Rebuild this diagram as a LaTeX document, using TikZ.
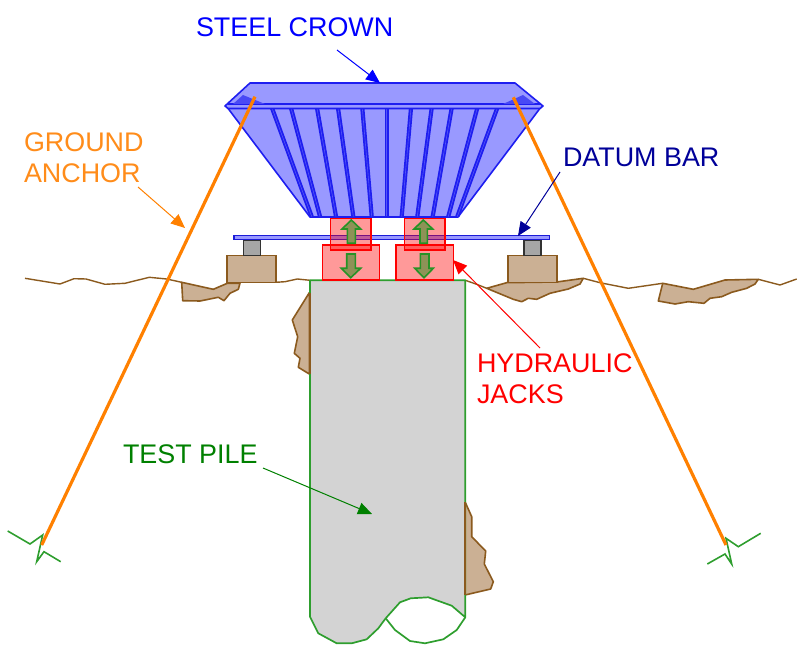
\documentclass[tikz,border=0pt]{standalone}
\usepackage{fontspec}
\setmainfont{Liberation Sans}
\usetikzlibrary{arrows.meta}
\definecolor{crownfill}{HTML}{9999FF}
\definecolor{crownline}{HTML}{1E1EF0}
\definecolor{soil}{HTML}{8B5A1E}
\definecolor{soilfill}{HTML}{CBB094}
\definecolor{pilefill}{HTML}{D3D3D3}
\definecolor{pileline}{HTML}{2E9E2E}
\definecolor{anchorc}{HTML}{FF8000}
\definecolor{navyc}{HTML}{000099}
\definecolor{greenc}{HTML}{008000}
\definecolor{labelorange}{HTML}{FF8C1A}
\definecolor{arrowfill}{HTML}{8E9257}
\tikzset{
  lbl/.style={font=\fontsize{26.9}{31}\selectfont,inner sep=0pt,outer sep=0pt,anchor=base west,align=left},
  callout/.style={line width=1pt,-{Triangle[length=14pt,width=12pt]}},
  soilshape/.style={draw=soil,fill=soilfill,line width=1.6pt,line join=round},
  groundline/.style={draw=soil,line width=1.4pt,line join=round},
  pileshape/.style={draw=pileline,line width=1.7pt,line join=round},
  crownshape/.style={draw=crownline,fill=crownfill,line width=1.6pt,line join=round},
  rib/.style={draw=crownline,line width=4.2pt},
  ribcore/.style={draw=crownfill!45!crownline,line width=.6pt},
  jack/.style={draw=red,fill=red,fill opacity=.4,line width=1.4pt},
  jackarrow/.style={draw=greenc!85!white,fill=arrowfill,line width=1.6pt,line join=miter},
  bearing/.style={draw=soil,fill=soilfill,line width=1.6pt},
  spacer/.style={draw=black!80,fill=black!35,line width=1.6pt},
  tendon/.style={draw=anchorc,line width=3.2pt},
  barb/.style={draw=pileline,line width=1.6pt,line join=miter}
}
\begin{document}
\begin{tikzpicture}[x=1pt,y=-1pt]
\useasboundingbox (0,0) rectangle (800,660);
% ground surface
\draw[groundline] (25,278.3)--(60,284)--(74,278.7)--(86,279)--(105,284.3)--(125,283.3)--(149.3,277.3)--(166.7,279)--(181.7,282.3);
\draw[groundline] (276,282.3)--(285,281.7)--(297.3,279)--(310,280.3);
\draw[groundline] (465.3,280.3)--(476.7,284.3)--(486.7,288.3);
\draw[groundline] (583.3,278.3)--(600,282.7)--(628.3,288.3)--(662.7,283.3);
\draw[groundline] (758.3,279.3)--(780,285)--(796.7,279);
% soil pockets
\draw[soilshape] (181.7,282.3)--(213.3,289.3)--(227.3,283.3)--(240,283.3)--(238.3,289.3)--(230,293.3)--(224,300.7)--(218.3,297.3)--(200,301)--(182.7,300.7)--cycle;
\draw[soilshape] (486.7,288.3)--(506.7,282.7)--(556.7,282)--(583.3,278.3)--(580,284)--(568.3,289)--(550,293.3)--(536.7,299.3)--(528.3,298.3)--(521.7,301.7)--(513.3,299.3)--cycle;
\draw[soilshape] (662.7,283.3)--(693.3,289.3)--(725,280)--(758.3,279.3)--(755,284)--(746.7,288.3)--(731.7,292.3)--(721.7,296.7)--(710,298.3)--(704,303.3)--(688.3,301.7)--(675,304)--(658.3,301)--cycle;
\draw[soilshape] (309.3,292.7)--(292.3,320)--(297.7,336.7)--(294.3,353.3)--(300,358.3)--(298.3,367.3)--(309.3,374)--cycle;
\draw[soilshape] (465,501.7)--(471.7,516.7)--(471.7,536.7)--(485.7,551)--(484.3,564)--(493.3,581.7)--(490.7,589)--(465,595)--cycle;
% test pile
\draw[pileshape,fill=pilefill] (310,280.3)--(465.3,280.3)--(465.3,617.3)--(451.7,605.7)--(428.3,597.3)--(410.7,598.3)--(400,602.3)--(385.7,618.3)--(378.3,628.3)--(366.7,639.3)--(351.7,643.3)--(336.7,643.3)--(318.3,633.3)--(310,616.7)--cycle;
\draw[pileshape] (385.7,618.3)--(395,630)--(410,641)--(425,643.3)--(443.3,639.3)--(456.7,630)--(465.3,617.3);
\draw[soil,line width=1.7pt] (465.3,501.7)--(465.3,595);
\draw[soil,line width=1.7pt] (309.9,292.7)--(309.9,374);
% bearing blocks
\draw[bearing] (227,255.7) rectangle (276,282.3);
\draw[bearing] (507.7,255.7) rectangle (556.7,282.3);
\draw[spacer] (243.3,240) rectangle (260.3,255.7);
\draw[spacer] (524,240) rectangle (541,255.7);
% crown
\draw[crownshape] (227,107)--(541,107)--(458,217)--(310,217)--cycle;
\foreach \a/\b in {272/311.7,291/320,317/336,338/353.3,362.3/371.7,386.7/386.7,411/401.7,431.7/417.3,451.7/432.7,477.3/448.3,497.3/457.3}{
  \draw[rib] (\a,108)--(\b,216.5);
  \draw[ribcore] (\a,108)--(\b,216.5);
}
\draw[crownshape] (225,106)--(250,83)--(515,83)--(543,106)--(540,108.5)--(228,108.5)--cycle;
\draw[crownline,line width=1.6pt] (228,104)--(540,104);
\fill[crownline!65!crownfill] (233,104)--(243,95)--(265,104)--cycle;
\fill[crownline!65!crownfill] (503,104)--(523,95)--(535,104)--cycle;
% datum bar
\draw[draw=crownline!90!black,fill=crownfill,line width=1.6pt] (234,235.7) rectangle (549.3,239.7);
% jacks
\draw[jack] (330.3,218.3) rectangle (371,250);
\draw[jack] (404.3,218.3) rectangle (445,250);
\draw[jack] (322.3,245) rectangle (379.7,280);
\draw[jack] (396,245) rectangle (453.3,280);
\draw[jackarrow] (351.3,220)--(360.7,229)--(355.3,229)--(355.3,243.3)--(347.3,243.3)--(347.3,229)--(342,229)--cycle;
\draw[jackarrow] (423.3,220)--(432.7,229)--(427.3,229)--(427.3,243.3)--(420,243.3)--(420,229)--(414,229)--cycle;
\draw[jackarrow] (346.7,254)--(355.3,254)--(355.3,268.3)--(360.7,268.3)--(350.7,277.7)--(341.3,268.3)--(346.7,268.3)--cycle;
\draw[jackarrow] (420.3,254)--(429,254)--(429,268.3)--(433.3,268.3)--(424,277.7)--(414.7,268.3)--(420.3,268.3)--cycle;
% anchors
\coordinate (lefttop) at (255,96.7);
\coordinate (leftroot) at (41.7,545);
\coordinate (righttop) at (513.3,97.3);
\coordinate (rightroot) at (726,545);
\draw[barb] (7.7,531)--(30,544)--(42.7,535)--(36.7,561.7)--(44,551.7)--(60.7,561.7);
\draw[barb] (707.3,564)--(725,554)--(731.7,564)--(726,538.3)--(738.3,546.7)--(760.7,533.3);
\draw[tendon] (lefttop)--(leftroot);
\draw[tendon] (righttop)--(rightroot);
% labels
\node[lbl,text=blue] (crownlabel) at (196,37) {STEEL CROWN};
\node[lbl,text=labelorange] (anchorlabel) at (24,183) {GROUND\\ANCHOR};
\node[lbl,text=navyc] (datumlabel) at (563,167) {DATUM BAR};
\node[lbl,text=red] (jacklabel) at (477,403) {HYDRAULIC\\JACKS};
\node[lbl,text=greenc] (pilelabel) at (123,463) {TEST PILE};
% callouts
\coordinate (crowntarget) at (380,83);
\coordinate (datumtarget) at (518,236);
\coordinate (anchortarget) at (185,228);
\coordinate (jacktarget) at (453,260);
\coordinate (piletarget) at (372,514);
\coordinate (crownstart) at (337,50);
\coordinate (datumstart) at (560,172);
\coordinate (anchorstart) at (138,187);
\coordinate (jackstart) at (540,348);
\coordinate (pilestart) at (263,468);
\draw[callout,blue] (crownstart)--(crowntarget);
\draw[callout,navyc] (datumstart)--(datumtarget);
\draw[callout,anchorc] (anchorstart)--(anchortarget);
\draw[callout,red] (jackstart)--(jacktarget);
\draw[callout,greenc] (pilestart)--(piletarget);
\end{tikzpicture}
\end{document}
